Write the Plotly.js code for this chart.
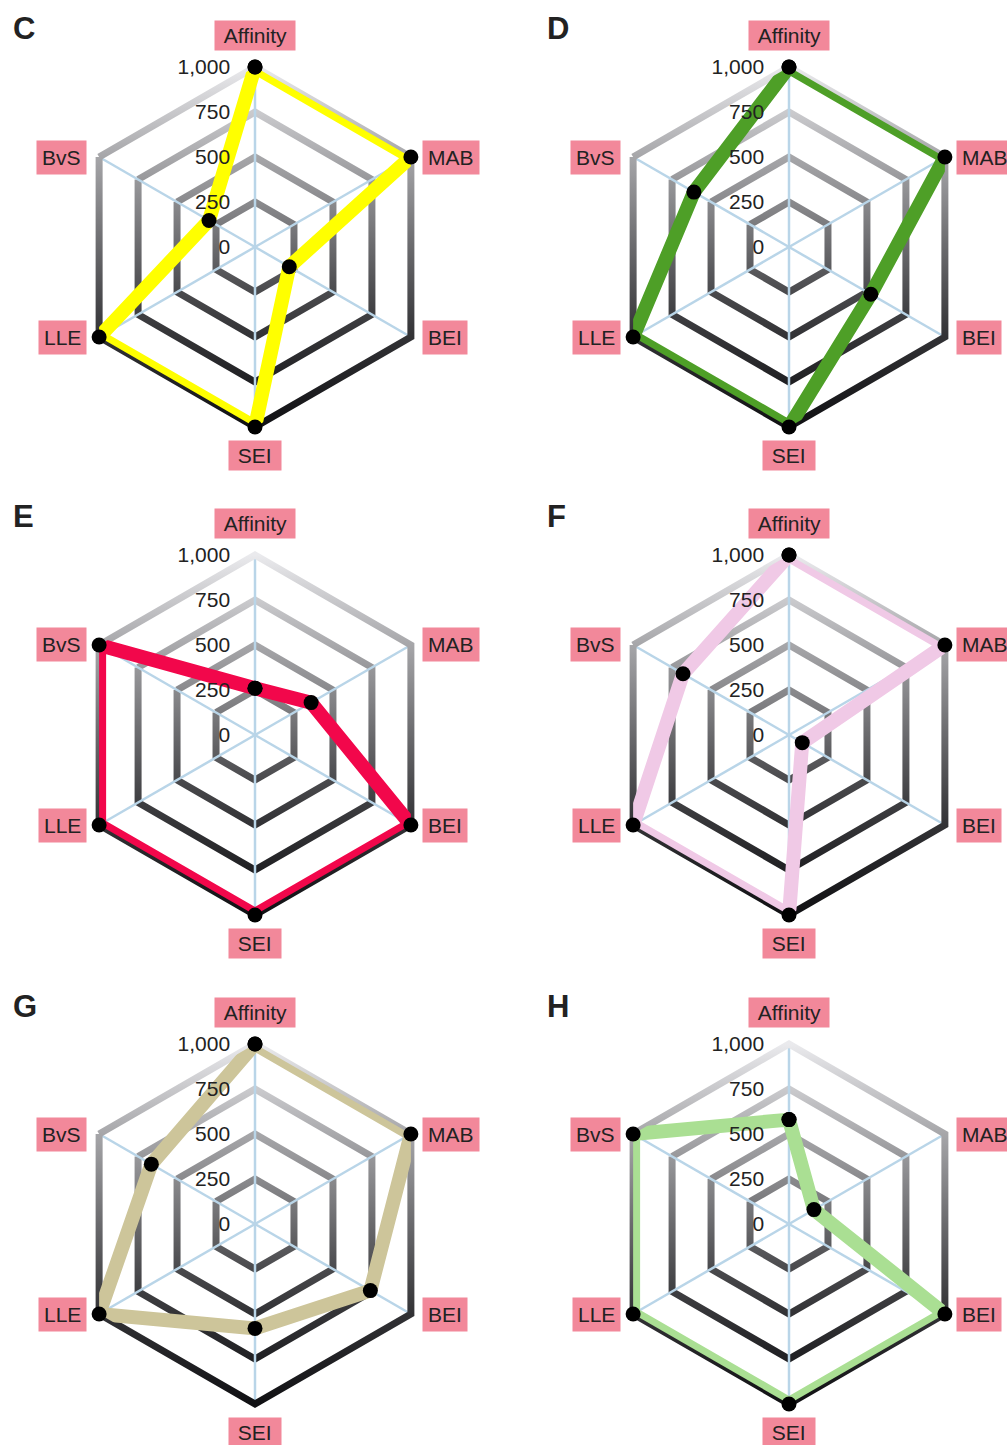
<!DOCTYPE html>
<html>
<head>
<meta charset="utf-8">
<script src="https://cdn.plot.ly/plotly-3.0.1.min.js"></script>
<style>
  html, body { margin: 0; padding: 0; background: #fff; }
  #myGraph { width: 1007px; height: 1445px; }
</style>
</head>
<body>
<div id="myGraph"></div>
<script>
// radar axes, clockwise from the top
let axes = ['Affinity', 'MAB', 'BEI', 'SEI', 'LLE', 'BvS'];
let panels = ['C', 'D', 'E', 'F', 'G', 'H'];

// values (same order as axes)
let valsC = [1000, 1000, 220, 1000, 1000, 295];
let valsD = [1000, 1000, 525, 1000, 1000, 610];
let valsE = [260, 360, 1000, 1000, 1000, 1000];
let valsF = [1000, 1000, 85, 1000, 1000, 680];
let valsG = [1000, 1000, 740, 580, 1000, 665];
let valsH = [580, 160, 1000, 1000, 1000, 1000];
let allVals = [valsC, valsD, valsE, valsF, valsG, valsH];

let colors = ['#ffff00', '#4e9f27', '#f2074b', '#f0c9e6', '#cdc59a', '#aadf93'];

let tickVals = [0, 250, 500, 750, 1000];
let tickText = ['0', '250', '500', '750', '1,000'];

let myGraph = document.getElementById('myGraph');

// page geometry (px)
let W = 1007, H = 1445, R = 180;
let colX = [255, 789];
let rowY = [247, 735, 1224];

let font = 'Liberation Sans, Arial, sans-serif';
let data = [];
let annotations = [];
let layout = {
  width: W,
  height: H,
  margin: {t: 0, r: 0, l: 0, b: 0},
  paper_bgcolor: '#fff',
  showlegend: false,
  font: {family: font, color: '#222'}
};

for (let i = 0; i < panels.length; i++) {
  let cx = colX[i % 2];
  let cy = rowY[Math.floor(i / 2)];
  let name = i === 0 ? 'polar' : 'polar' + (i + 1);

  layout[name] = {
    domain: {
      x: [(cx - R) / W, (cx + R) / W],
      y: [1 - (cy + R) / H, 1 - (cy - R) / H]
    },
    gridshape: 'linear',
    bgcolor: 'rgba(0,0,0,0)',
    radialaxis: {
      range: [0, 1000],
      tickvals: tickVals,
      ticktext: tickText,
      angle: 90,
      side: 'counterclockwise',
      tickangle: 90,          // keeps the labels horizontal on the upright axis
      ticks: 'outside',
      ticklen: 17,
      tickcolor: 'rgba(0,0,0,0)',
      tickfont: {family: font, size: 21, color: '#222'},
      showline: false,
      gridcolor: '#888',
      gridwidth: 7,
      layer: 'above traces'
    },
    angularaxis: {
      direction: 'clockwise',
      rotation: 90,
      categoryorder: 'array',
      categoryarray: axes,
      showticklabels: false,
      ticks: '',
      gridcolor: '#b9d5e8',
      gridwidth: 2.5,
      showline: true,
      linecolor: '#888',
      linewidth: 7,
      layer: 'below traces'
    }
  };

  let vals = allVals[i];
  data.push({
    type: 'scatterpolar',
    subplot: name,
    r: vals.concat([vals[0]]),
    theta: axes.concat([axes[0]]),
    mode: 'lines+markers',
    line: {color: colors[i], width: 14},
    marker: {color: '#000', size: 15},
    cliponaxis: false,
    hoverinfo: 'skip'
  });

  // pink axis name boxes
  for (let k = 0; k < axes.length; k++) {
    let a = (90 - 60 * k) * Math.PI / 180;
    let vx = cx + R * Math.cos(a);
    let vy = cy - R * Math.sin(a);
    let vertical = (k === 0 || k === 3);
    let ann = {
      text: vertical ? '&nbsp;' + axes[k] + '&nbsp;' : axes[k],
      showarrow: false, xref: 'paper', yref: 'paper',
      bgcolor: '#f2889a', borderpad: vertical ? 3 : 5,
      font: {family: font, size: 21, color: '#222'}
    };
    if (k === 0) { ann.x = vx; ann.y = vy - 16; ann.xanchor = 'center'; ann.yanchor = 'bottom'; }
    else if (k === 3) { ann.x = vx; ann.y = vy + 13; ann.xanchor = 'center'; ann.yanchor = 'top'; }
    else if (vx > cx) { ann.x = vx + 11; ann.y = vy; ann.xanchor = 'left'; ann.yanchor = 'middle'; }
    else { ann.x = vx - 12; ann.y = vy; ann.xanchor = 'right'; ann.yanchor = 'middle'; }
    ann.x = ann.x / W;
    ann.y = 1 - ann.y / H;
    annotations.push(ann);
  }

  // panel letter
  annotations.push({
    text: '<b>' + panels[i] + '</b>', showarrow: false, xref: 'paper', yref: 'paper',
    x: (cx - 244) / W, y: 1 - (cy - 218) / H, xanchor: 'left', yanchor: 'middle',
    font: {family: font, size: 31, color: '#222'}
  });
}
layout.annotations = annotations;

// grey -> black shading of the rings, top to bottom
function shade(t) {
  let pts = [[-1, 234], [-0.75, 202], [-0.5, 166], [-0.25, 138], [0, 106], [0.25, 74], [0.5, 50], [0.75, 32], [1, 16]];
  for (let j = 1; j < pts.length; j++) {
    if (t <= pts[j][0]) {
      let u = (t - pts[j - 1][0]) / (pts[j][0] - pts[j - 1][0]);
      let v = Math.round(pts[j - 1][1] + u * (pts[j][1] - pts[j - 1][1]));
      return 'rgb(' + v + ',' + v + ',' + Math.min(255, v + 3) + ')';
    }
  }
  return 'rgb(16,16,18)';
}

function addGradients() {
  let svgNS = 'http://www.w3.org/2000/svg';
  let defs = myGraph.querySelector('svg.main-svg defs');
  if (!defs) return;
  for (let q = 1; q <= 4; q++) {
    let f = q / 4;
    let g = document.createElementNS(svgNS, 'linearGradient');
    g.setAttribute('id', 'ringGrad' + q);
    g.setAttribute('x1', '0'); g.setAttribute('y1', '0');
    g.setAttribute('x2', '0'); g.setAttribute('y2', '1');
    for (let s = 0; s <= 4; s++) {
      let off = s / 4;
      let stop = document.createElementNS(svgNS, 'stop');
      stop.setAttribute('offset', off);
      stop.setAttribute('stop-color', shade(-f + 2 * f * off));
      g.appendChild(stop);
    }
    defs.appendChild(g);
  }
  myGraph.querySelectorAll('.radial-grid path, .angular-line path').forEach(p => {
    let h = p.getBBox().height;
    let q = Math.round(h / (2 * R) * 4);
    if (q >= 1 && q <= 4) p.style.stroke = 'url(#ringGrad' + q + ')';
  });
  // spokes above the rings
  myGraph.querySelectorAll('.angular-grid').forEach(ag => {
    let rg = ag.parentNode.querySelector('.radial-grid');
    if (rg) ag.parentNode.insertBefore(ag, rg.nextSibling);
  });
}

Plotly.newPlot(myGraph, data, layout, {staticPlot: true}).then(addGradients);
</script>
</body>
</html>
